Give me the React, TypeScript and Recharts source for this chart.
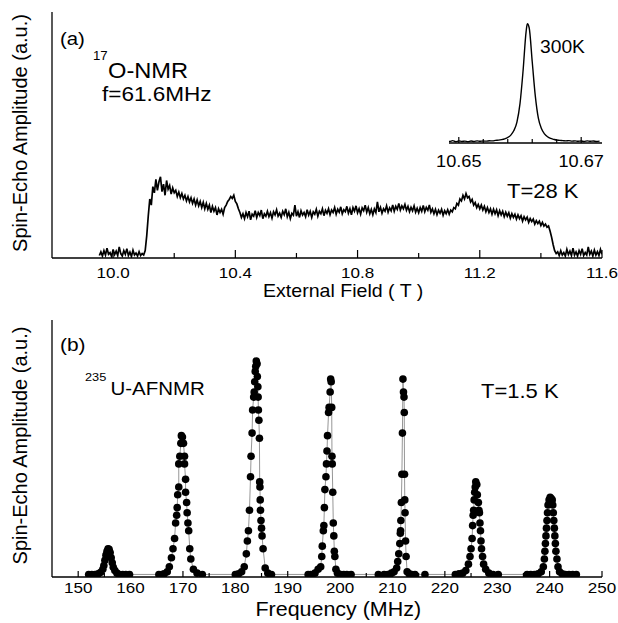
import React from "react";
import { LineChart, Line, XAxis, YAxis, Label } from "recharts";

const FONT = "Arial, 'Liberation Sans', Helvetica, sans-serif";
const SX = 1.1; // the reference lettering is a little wide

// (a) 17O-NMR field sweep, T = 28 K (amplitude as fraction of frame height)
const spectrumA: [number, number][] = [
  [9.955, 0.010], [9.96, 0.025], [9.965, 0.008], [9.97, 0.030], [9.975, 0.012], [9.98, 0.040], [9.985, 0.015], [9.99, 0.022], [9.995, 0.006], [10.0, 0.035],
  [10.005, 0.014], [10.01, 0.028], [10.015, 0.010], [10.02, 0.045], [10.025, 0.018], [10.03, 0.008], [10.035, 0.030], [10.04, 0.015], [10.045, 0.038], [10.05, 0.010],
  [10.055, 0.024], [10.06, 0.006], [10.065, 0.032], [10.07, 0.012], [10.075, 0.020], [10.08, 0.008], [10.085, 0.026], [10.09, 0.010], [10.095, 0.018], [10.1, 0.012],
  [10.105, 0.030], [10.11, 0.090], [10.115, 0.170], [10.12, 0.240], [10.125, 0.215], [10.13, 0.290], [10.135, 0.265], [10.14, 0.320], [10.145, 0.275], [10.15, 0.310],
  [10.155, 0.330], [10.16, 0.270], [10.165, 0.300], [10.17, 0.255], [10.175, 0.315], [10.18, 0.280], [10.185, 0.295], [10.19, 0.260], [10.195, 0.285], [10.2, 0.265],
  [10.205, 0.275], [10.21, 0.250], [10.215, 0.268], [10.22, 0.245], [10.225, 0.262], [10.23, 0.240], [10.235, 0.255], [10.24, 0.232], [10.245, 0.250], [10.25, 0.228],
  [10.255, 0.245], [10.26, 0.222], [10.265, 0.240], [10.27, 0.215], [10.275, 0.236], [10.28, 0.212], [10.285, 0.230], [10.29, 0.205], [10.295, 0.226], [10.3, 0.200],
  [10.305, 0.222], [10.31, 0.198], [10.315, 0.215], [10.32, 0.185], [10.325, 0.210], [10.33, 0.190], [10.335, 0.205], [10.34, 0.175], [10.345, 0.200], [10.35, 0.185],
  [10.355, 0.198], [10.36, 0.178], [10.365, 0.205], [10.37, 0.215], [10.375, 0.230], [10.38, 0.238], [10.385, 0.250], [10.39, 0.242], [10.395, 0.255], [10.4, 0.230],
  [10.405, 0.220], [10.41, 0.200], [10.415, 0.185], [10.42, 0.165], [10.425, 0.180], [10.43, 0.160], [10.435, 0.185], [10.44, 0.168], [10.445, 0.190], [10.45, 0.155],
  [10.455, 0.178], [10.46, 0.170], [10.465, 0.192], [10.47, 0.165], [10.475, 0.185], [10.48, 0.172], [10.485, 0.195], [10.49, 0.160], [10.495, 0.180], [10.5, 0.170],
  [10.505, 0.190], [10.51, 0.168], [10.515, 0.184], [10.52, 0.162], [10.525, 0.188], [10.53, 0.175], [10.535, 0.196], [10.54, 0.170], [10.545, 0.182], [10.55, 0.165],
  [10.555, 0.190], [10.56, 0.176], [10.565, 0.200], [10.57, 0.168], [10.575, 0.186], [10.58, 0.160], [10.585, 0.182], [10.59, 0.174], [10.595, 0.215], [10.6, 0.170],
  [10.605, 0.188], [10.61, 0.165], [10.615, 0.192], [10.62, 0.175], [10.625, 0.185], [10.63, 0.168], [10.635, 0.196], [10.64, 0.174], [10.645, 0.190], [10.65, 0.165],
  [10.655, 0.188], [10.66, 0.178], [10.665, 0.198], [10.67, 0.170], [10.675, 0.190], [10.68, 0.180], [10.685, 0.200], [10.69, 0.172], [10.695, 0.194], [10.7, 0.182],
  [10.705, 0.200], [10.71, 0.176], [10.715, 0.195], [10.72, 0.185], [10.725, 0.205], [10.73, 0.178], [10.735, 0.198], [10.74, 0.186], [10.745, 0.208], [10.75, 0.180],
  [10.755, 0.196], [10.76, 0.188], [10.765, 0.210], [10.77, 0.182], [10.775, 0.200], [10.78, 0.176], [10.785, 0.205], [10.79, 0.190], [10.795, 0.212], [10.8, 0.184],
  [10.805, 0.200], [10.81, 0.178], [10.815, 0.204], [10.82, 0.192], [10.825, 0.215], [10.83, 0.186], [10.835, 0.205], [10.84, 0.180], [10.845, 0.198], [10.85, 0.176],
  [10.855, 0.200], [10.86, 0.185], [10.865, 0.228], [10.87, 0.188], [10.875, 0.206], [10.88, 0.182], [10.885, 0.200], [10.89, 0.190], [10.895, 0.212], [10.9, 0.186],
  [10.905, 0.204], [10.91, 0.192], [10.915, 0.216], [10.92, 0.190], [10.925, 0.210], [10.93, 0.198], [10.935, 0.222], [10.94, 0.195], [10.945, 0.212], [10.95, 0.200],
  [10.955, 0.218], [10.96, 0.194], [10.965, 0.210], [10.97, 0.188], [10.975, 0.206], [10.98, 0.192], [10.985, 0.212], [10.99, 0.186], [10.995, 0.202], [11.0, 0.184],
  [11.005, 0.205], [11.01, 0.190], [11.015, 0.214], [11.02, 0.188], [11.025, 0.206], [11.03, 0.194], [11.035, 0.216], [11.04, 0.186], [11.045, 0.200], [11.05, 0.180],
  [11.055, 0.198], [11.06, 0.176], [11.065, 0.194], [11.07, 0.182], [11.075, 0.198], [11.08, 0.174], [11.085, 0.192], [11.09, 0.180], [11.095, 0.196], [11.1, 0.178],
  [11.105, 0.195], [11.11, 0.188], [11.115, 0.205], [11.12, 0.200], [11.125, 0.222], [11.13, 0.215], [11.135, 0.240], [11.14, 0.232], [11.145, 0.255], [11.15, 0.240],
  [11.155, 0.262], [11.16, 0.245], [11.165, 0.250], [11.17, 0.228], [11.175, 0.238], [11.18, 0.215], [11.185, 0.225], [11.19, 0.205], [11.195, 0.218], [11.2, 0.200],
  [11.205, 0.215], [11.21, 0.195], [11.215, 0.210], [11.22, 0.188], [11.225, 0.205], [11.23, 0.185], [11.235, 0.200], [11.24, 0.178], [11.245, 0.198], [11.25, 0.180],
  [11.255, 0.196], [11.26, 0.172], [11.265, 0.192], [11.27, 0.175], [11.275, 0.190], [11.28, 0.168], [11.285, 0.186], [11.29, 0.170], [11.295, 0.184], [11.3, 0.162],
  [11.305, 0.180], [11.31, 0.165], [11.315, 0.178], [11.32, 0.158], [11.325, 0.175], [11.33, 0.160], [11.335, 0.172], [11.34, 0.150], [11.345, 0.168], [11.35, 0.155],
  [11.355, 0.166], [11.36, 0.145], [11.365, 0.160], [11.37, 0.148], [11.375, 0.158], [11.38, 0.138], [11.385, 0.152], [11.39, 0.140], [11.395, 0.150], [11.4, 0.132],
  [11.405, 0.145], [11.41, 0.130], [11.415, 0.138], [11.42, 0.125], [11.425, 0.130], [11.43, 0.110], [11.435, 0.085], [11.44, 0.055], [11.445, 0.030], [11.45, 0.018],
  [11.455, 0.025], [11.46, 0.010], [11.465, 0.030], [11.47, 0.012], [11.475, 0.022], [11.48, 0.008], [11.485, 0.035], [11.49, 0.014], [11.495, 0.028], [11.5, 0.010],
  [11.505, 0.040], [11.51, 0.012], [11.515, 0.025], [11.52, 0.008], [11.525, 0.030], [11.53, 0.015], [11.535, 0.038], [11.54, 0.010], [11.545, 0.022], [11.55, 0.012],
  [11.555, 0.045], [11.56, 0.015], [11.565, 0.028], [11.57, 0.008], [11.575, 0.032], [11.58, 0.012], [11.585, 0.026], [11.59, 0.010], [11.595, 0.035], [11.6, 0.015],
];

// inset: 300 K line
const spectrumInset: [number, number][] = [
  [10.648, 0.015], [10.6485, 0.012], [10.649, 0.018], [10.6495, 0.010], [10.65, 0.016], [10.6505, 0.012], [10.651, 0.014], [10.6515, 0.010], [10.652, 0.015], [10.6525, 0.012],
  [10.653, 0.016], [10.6535, 0.013], [10.654, 0.015], [10.6545, 0.014], [10.655, 0.017], [10.6555, 0.016], [10.656, 0.020], [10.6565, 0.022], [10.657, 0.026], [10.6575, 0.032],
  [10.658, 0.042], [10.6585, 0.060], [10.659, 0.095], [10.6595, 0.160], [10.66, 0.300], [10.6605, 0.550], [10.661, 0.850], [10.6612, 0.910], [10.6615, 0.880], [10.662, 0.620],
  [10.6625, 0.360], [10.663, 0.190], [10.6635, 0.110], [10.664, 0.070], [10.6645, 0.048], [10.665, 0.035], [10.6655, 0.028], [10.666, 0.022], [10.6665, 0.020], [10.667, 0.018],
  [10.6675, 0.016], [10.668, 0.018], [10.6685, 0.014], [10.669, 0.016], [10.6695, 0.013], [10.67, 0.015], [10.6705, 0.012], [10.671, 0.016], [10.6715, 0.013], [10.672, 0.015],
  [10.6725, 0.012], [10.673, 0.014],
];

// (b) 235U zero-field NMR at 1.5 K, one array per line
const peak155: [number, number][] = [
  [152.0, 0.010], [152.6, 0.010], [153.2, 0.010], [153.8, 0.012], [154.3, 0.018], [154.7, 0.030], [154.9, 0.045], [155.1, 0.065], [155.3, 0.085], [155.5, 0.100],
  [155.7, 0.110], [155.9, 0.108], [156.1, 0.095], [156.3, 0.075], [156.5, 0.055], [156.7, 0.038], [157.0, 0.025], [157.4, 0.015], [157.9, 0.010], [158.5, 0.010],
  [159.1, 0.010], [159.8, 0.010],
];
const peak169: [number, number][] = [
  [165.4, 0.010], [166.0, 0.010], [166.4, 0.012], [167.0, 0.020], [167.4, 0.040], [167.8, 0.075], [168.1, 0.110], [168.4, 0.150], [168.6, 0.210], [168.8, 0.240],
  [168.9, 0.270], [169.0, 0.320], [169.2, 0.350], [169.2, 0.440], [169.4, 0.470], [169.6, 0.520], [169.7, 0.550], [169.9, 0.545], [170.1, 0.520], [170.3, 0.470],
  [170.3, 0.440], [170.5, 0.380], [170.5, 0.330], [170.7, 0.290], [170.8, 0.250], [170.95, 0.210], [171.1, 0.180], [171.3, 0.110], [171.5, 0.070], [172.0, 0.030],
  [172.7, 0.015], [173.7, 0.010],
];
const peak184: [number, number][] = [
  [180.0, 0.010], [180.6, 0.012], [181.2, 0.020], [181.7, 0.040], [182.1, 0.090], [182.3, 0.140], [182.5, 0.180], [182.7, 0.260], [182.9, 0.390], [183.0, 0.470],
  [183.2, 0.560], [183.3, 0.650], [183.5, 0.700], [183.6, 0.720], [183.7, 0.760], [183.8, 0.800], [183.9, 0.820], [184.0, 0.840], [184.15, 0.830], [184.2, 0.780],
  [184.3, 0.740], [184.35, 0.700], [184.4, 0.650], [184.5, 0.610], [184.6, 0.540], [184.65, 0.370], [184.7, 0.350], [184.75, 0.300], [184.8, 0.260], [184.9, 0.220],
  [185.0, 0.190], [185.1, 0.160], [185.3, 0.110], [185.7, 0.035], [186.2, 0.015], [186.9, 0.010],
];
const peak198: [number, number][] = [
  [193.9, 0.010], [194.4, 0.010], [195.2, 0.015], [195.8, 0.030], [196.3, 0.040], [196.5, 0.080], [196.6, 0.120], [196.8, 0.180], [196.9, 0.200], [197.0, 0.270],
  [197.1, 0.340], [197.3, 0.390], [197.4, 0.440], [197.5, 0.490], [197.6, 0.550], [197.8, 0.640], [197.9, 0.660], [198.1, 0.720], [198.2, 0.770], [198.3, 0.760],
  [198.4, 0.660], [198.45, 0.470], [198.5, 0.440], [198.6, 0.330], [198.7, 0.210], [198.8, 0.160], [198.9, 0.100], [199.0, 0.080], [199.2, 0.030], [199.5, 0.015],
  [200.1, 0.010], [200.7, 0.010], [201.3, 0.010], [202.1, 0.010],
];
const peak212: [number, number][] = [
  [207.3, 0.010], [208.4, 0.010], [209.1, 0.010], [209.8, 0.015], [210.3, 0.020], [210.8, 0.035], [211.0, 0.060], [211.2, 0.090], [211.4, 0.130], [211.5, 0.170],
  [211.55, 0.180], [211.6, 0.220], [211.7, 0.290], [211.8, 0.400], [211.9, 0.560], [212.0, 0.770], [212.1, 0.720], [212.2, 0.700], [212.25, 0.640], [212.3, 0.400],
  [212.35, 0.300], [212.4, 0.250], [212.5, 0.140], [212.6, 0.080], [212.8, 0.020], [213.2, 0.012], [213.7, 0.010], [214.3, 0.010], [216.2, 0.010],
];
const peak226: [number, number][] = [
  [222.0, 0.010], [222.7, 0.012], [223.4, 0.015], [224.0, 0.025], [224.5, 0.050], [224.8, 0.080], [225.0, 0.110], [225.2, 0.150], [225.3, 0.200], [225.4, 0.240],
  [225.5, 0.260], [225.6, 0.300], [225.7, 0.330], [225.8, 0.350], [225.9, 0.370], [226.1, 0.360], [226.2, 0.320], [226.4, 0.290], [226.5, 0.260], [226.6, 0.250],
  [226.7, 0.210], [226.8, 0.180], [226.9, 0.140], [227.0, 0.110], [227.2, 0.080], [227.4, 0.050], [227.8, 0.030], [228.4, 0.015], [229.2, 0.010], [230.2, 0.010],
];
const peak240: [number, number][] = [
  [235.7, 0.010], [236.4, 0.010], [237.1, 0.010], [237.8, 0.012], [238.4, 0.020], [238.8, 0.040], [239.0, 0.070], [239.1, 0.100], [239.2, 0.130], [239.3, 0.160],
  [239.4, 0.190], [239.5, 0.220], [239.6, 0.250], [239.7, 0.280], [239.9, 0.300], [240.1, 0.310], [240.3, 0.305], [240.5, 0.300], [240.6, 0.280], [240.7, 0.250],
  [240.8, 0.220], [240.9, 0.190], [241.0, 0.160], [241.1, 0.130], [241.2, 0.100], [241.4, 0.070], [241.6, 0.040], [241.9, 0.020], [242.4, 0.012], [243.0, 0.010],
  [243.7, 0.010], [244.4, 0.010], [245.1, 0.010],
];

// ticks
const fieldTickLabels = ["10.0", "10.4", "10.8", "11.2", "11.6"];
const fieldMinorTicks = [10.2, 10.6, 11.0, 11.4];
const insetTickLabels = ["10.65", "10.67"];
const insetMinorTicks = [10.654, 10.658, 10.662, 10.666];
const freqTickLabels = ["150", "160", "170", "180", "190", "200", "210", "220", "230", "240", "250"];
const freqMinorTicks = [155, 165, 175, 185, 195, 205, 215, 225, 235, 245];

const toPts = (arr: [number, number][]) => arr.map(([x, y]) => ({ x, y }));
const allTicks = (labels: string[], minor: number[]) =>
  [...labels.map((l) => parseFloat(l)), ...minor].sort((a, b) => a - b);

const dataA = toPts(spectrumA);
const dataInset = toPts(spectrumInset);
const dataB = toPts([...peak155, ...peak169, ...peak184, ...peak198, ...peak212, ...peak226, ...peak240]);

const AxisTick = (p: any) => {
  const { x = 0, y = 0, payload, tickLabels, tickSide, majorLen, minorLen, labelSize, labelDy } = p;
  const v = payload ? payload.value : 0;
  const label = (tickLabels as string[]).find((l) => Math.abs(parseFloat(l) - v) < 1e-6);
  const len = label ? majorLen : minorLen;
  const dir = tickSide === "bottom" ? -1 : 1;
  return (
    <g>
      <line x1={x} x2={x} y1={y} y2={y + dir * len} stroke="#000" strokeWidth={1.2} />
      {label && tickSide === "bottom" && (
        <text
          transform={`translate(${x},${y + labelDy}) scale(${SX},1)`}
          textAnchor="middle"
          fontSize={labelSize}
          fontFamily={FONT}
          fill="#000"
        >
          {label}
        </text>
      )}
    </g>
  );
};

const tickFn = (labels: string[], side: string, major: number, minor: number, size: number, dy: number) =>
  (props: any) => (
    <AxisTick {...props} tickLabels={labels} tickSide={side} majorLen={major} minorLen={minor} labelSize={size} labelDy={dy} />
  );

const yTitle = (dy: number) => (props: any) => {
  const vb = props.viewBox || { x: 0, y: 0, width: 0, height: 0 };
  return (
    <text
      transform={`translate(${vb.x + 27},${vb.y + vb.height / 2 + dy}) rotate(-90)`}
      textAnchor="middle"
      fontSize={20}
      fontFamily={FONT}
      fill="#000"
    >
      Spin-Echo Amplitude (a.u.)
    </text>
  );
};

const xTitle = (text: string, dx: number, dy: number, size: number) => (props: any) => {
  const vb = props.viewBox || { x: 0, y: 0 };
  return (
    <text
      transform={`translate(${vb.x + dx},${vb.y + dy}) scale(${SX},1)`}
      fontSize={size}
      fontFamily={FONT}
      fill="#000"
    >
      {text}
    </text>
  );
};

const Txt = ({ x, y, size, children }: { x: number; y: number; size: number; children: React.ReactNode }) => (
  <text transform={`translate(${x},${y}) scale(${SX},1)`} fontSize={size} fontFamily={FONT} fill="#000">
    {children}
  </text>
);

const axisLine = { stroke: "#000", strokeWidth: 1.3 };

export default function App() {
  const fieldTicks = allTicks(fieldTickLabels, fieldMinorTicks);
  const insetTicks = allTicks(insetTickLabels, insetMinorTicks);
  const freqTicks = allTicks(freqTickLabels, freqMinorTicks);

  return (
    <div style={{ position: "absolute", left: 0, top: 0, width: 618, height: 623, background: "#fff" }}>
      {/* panel (a) */}
      <div style={{ position: "absolute", left: 0, top: 0 }}>
        <LineChart width={618} height={302} margin={{ top: 12, right: 16, bottom: 0, left: 0 }}>
          <XAxis
            xAxisId="bottom"
            dataKey="x"
            type="number"
            domain={[9.8, 11.6]}
            allowDataOverflow
            ticks={fieldTicks}
            interval={0}
            height={44}
            tickSize={0}
            tickMargin={0}
            tickLine={false}
            axisLine={axisLine}
            tick={tickFn(fieldTickLabels, "bottom", 8, 5, 15.5, 20)}
          >
            <Label content={xTitle("External Field ( T )", 211, 39, 17.8)} />
          </XAxis>
          <XAxis
            xAxisId="top"
            orientation="top"
            type="number"
            domain={[9.8, 11.6]}
            allowDataOverflow
            ticks={fieldTicks}
            interval={0}
            height={0}
            tickSize={0}
            tickMargin={0}
            tickLine={false}
            axisLine={axisLine}
            tick={tickFn(fieldTickLabels, "top", 8, 5, 15.5, 0)}
          />
          <YAxis yAxisId="left" type="number" domain={[0, 1]} allowDataOverflow width={52} tick={false} tickLine={false} axisLine={axisLine}>
            <Label content={yTitle(-2)} />
          </YAxis>
          <YAxis yAxisId="right" orientation="right" type="number" domain={[0, 1]} width={0} tick={false} tickLine={false} axisLine={axisLine} />
          <Line
            xAxisId="bottom"
            yAxisId="left"
            data={dataA}
            dataKey="y"
            type="linear"
            stroke="#000"
            strokeWidth={1.7}
            strokeLinejoin="miter"
            dot={false}
            isAnimationActive={false}
          />
        </LineChart>
      </div>

      {/* inset background */}
      <div style={{ position: "absolute", left: 450, top: 13, width: 151, height: 130, background: "#fff" }} />

      {/* inset: 300 K */}
      <div style={{ position: "absolute", left: 429, top: 12 }}>
        <LineChart width={189} height={161} margin={{ top: 0, right: 16, bottom: 0, left: 20 }}>
          <XAxis
            xAxisId="bottom"
            dataKey="x"
            type="number"
            domain={[10.6484, 10.6734]}
            allowDataOverflow
            ticks={insetTicks}
            interval={0}
            height={30}
            tickSize={0}
            tickMargin={0}
            tickLine={false}
            axisLine={axisLine}
            tick={tickFn(insetTickLabels, "bottom", 6, 4, 16.5, 24)}
          />
          <XAxis
            xAxisId="top"
            orientation="top"
            type="number"
            domain={[10.6484, 10.6734]}
            allowDataOverflow
            ticks={insetTicks}
            interval={0}
            height={0}
            tickSize={0}
            tickMargin={0}
            tickLine={false}
            axisLine={false}
            tick={tickFn(insetTickLabels, "top", 5, 5, 16.5, 0)}
          />
          <YAxis yAxisId="left" type="number" domain={[0, 1]} allowDataOverflow width={0} tick={false} tickLine={false} axisLine={axisLine} />
          <Line
            xAxisId="bottom"
            yAxisId="left"
            data={dataInset}
            dataKey="y"
            type="monotone"
            stroke="#000"
            strokeWidth={1.4}
            dot={false}
            isAnimationActive={false}
          />
        </LineChart>
      </div>

      {/* panel (b) */}
      <div style={{ position: "absolute", left: 0, top: 300 }}>
        <LineChart width={618} height={323} margin={{ top: 20, right: 16, bottom: 0, left: 0 }}>
          <XAxis
            xAxisId="bottom"
            dataKey="x"
            type="number"
            domain={[145, 250]}
            allowDataOverflow
            ticks={freqTicks}
            interval={0}
            height={46}
            tickSize={0}
            tickMargin={0}
            tickLine={false}
            axisLine={axisLine}
            tick={tickFn(freqTickLabels, "bottom", 6, 4, 15.5, 16)}
          >
            <Label content={xTitle("Frequency (MHz)", 203.5, 39, 19.5)} />
          </XAxis>
          <XAxis
            xAxisId="top"
            orientation="top"
            type="number"
            domain={[145, 250]}
            allowDataOverflow
            ticks={freqTicks}
            interval={0}
            height={0}
            tickSize={0}
            tickMargin={0}
            tickLine={false}
            axisLine={axisLine}
            tick={tickFn(freqTickLabels, "top", 6, 4, 15.5, 0)}
          />
          <YAxis yAxisId="left" type="number" domain={[0, 1]} allowDataOverflow width={52} tick={false} tickLine={false} axisLine={axisLine}>
            <Label content={yTitle(-3)} />
          </YAxis>
          <YAxis yAxisId="right" orientation="right" type="number" domain={[0, 1]} width={0} tick={false} tickLine={false} axisLine={axisLine} />
          <Line
            xAxisId="bottom"
            yAxisId="left"
            data={dataB}
            dataKey="y"
            type="linear"
            stroke="#8a8a8a"
            strokeWidth={0.9}
            dot={{ r: 3.8, fill: "#000", stroke: "#000", strokeWidth: 0 }}
            isAnimationActive={false}
          />
        </LineChart>
      </div>

      {/* annotations */}
      <svg width={618} height={623} style={{ position: "absolute", left: 0, top: 0, pointerEvents: "none" }}>
        <Txt x={60} y={45} size={18.5}>(a)</Txt>
        <Txt x={93} y={60} size={12}>17</Txt>
        <Txt x={108} y={78} size={21.5}>O-NMR</Txt>
        <Txt x={102} y={101} size={20.5}>f=61.6MHz</Txt>
        <Txt x={540} y={53} size={17.5}>300K</Txt>
        <Txt x={507} y={198} size={20}>T=28 K</Txt>
        <Txt x={60} y={351} size={19}>(b)</Txt>
        <Txt x={85} y={381} size={11.6}>235</Txt>
        <Txt x={110.5} y={395} size={18.6}>U-AFNMR</Txt>
        <Txt x={481} y={398} size={20}>T=1.5 K</Txt>
      </svg>
    </div>
  );
}
